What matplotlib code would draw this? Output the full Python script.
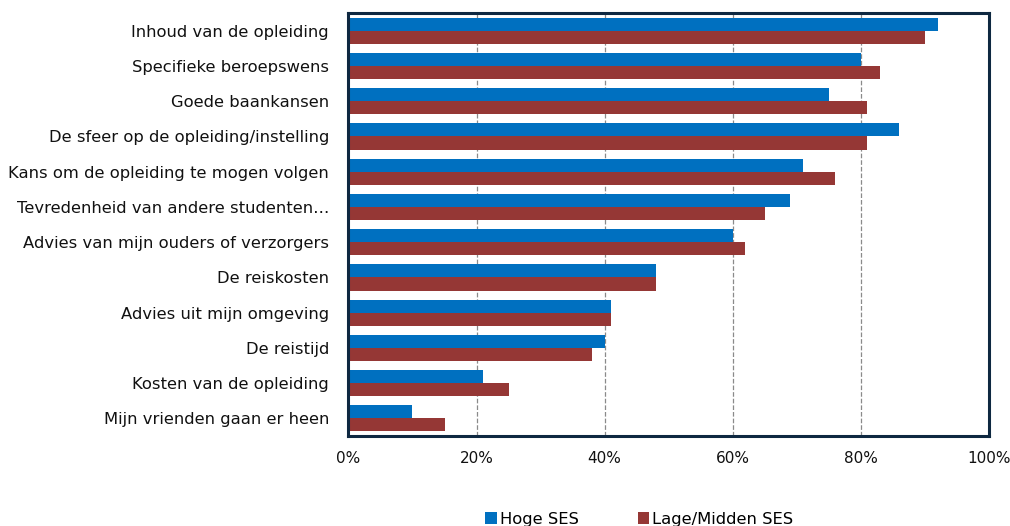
import numpy as np
import matplotlib.pyplot as plt
from matplotlib.ticker import PercentFormatter

categories = [
    "Inhoud van de opleiding",
    "Specifieke beroepswens",
    "Goede baankansen",
    "De sfeer op de opleiding/instelling",
    "Kans om de opleiding te mogen volgen",
    "Tevredenheid van andere studenten\u2026",
    "Advies van mijn ouders of verzorgers",
    "De reiskosten",
    "Advies uit mijn omgeving",
    "De reistijd",
    "Kosten van de opleiding",
    "Mijn vrienden gaan er heen",
]
hoge_ses = [92, 80, 75, 86, 71, 69, 60, 48, 41, 40, 21, 10]
lage_midden_ses = [90, 83, 81, 81, 76, 65, 62, 48, 41, 38, 25, 15]

blue = "#0070C0"
red = "#953735"

fig = plt.figure(figsize=(10.10, 5.26), dpi=100)
ax = fig.add_axes([0.345, 0.171, 0.634, 0.804])

y = np.arange(len(categories))
h = 0.37
ax.barh(y - h / 2, hoge_ses, height=h, color=blue, label="Hoge SES")
ax.barh(y + h / 2, lage_midden_ses, height=h, color=red, label="Lage/Midden SES")

ax.set_ylim(len(categories) - 0.5, -0.5)
ax.set_xlim(0, 100)
ax.set_xticks(range(0, 101, 20))
ax.xaxis.set_major_formatter(PercentFormatter(decimals=0))
ax.set_yticks(y)
ax.set_yticklabels(categories)
ax.tick_params(length=0, colors="#111111")
ax.tick_params(axis="y", pad=14, labelsize=11.8)
ax.tick_params(axis="x", pad=11, labelsize=11)

ax.grid(axis="x", linestyle="--", color="#8a8a8a", linewidth=0.9)
ax.set_axisbelow(True)
for s in ax.spines.values():
    s.set_color("#0e2841")
    s.set_linewidth(2.2)

fig.legend(loc="center", bbox_to_anchor=(0.633, 0.013), ncol=2, frameon=False,
           fontsize=11.8, handlelength=0.7, handleheight=0.7, handletextpad=0.2,
           columnspacing=3.6)

fig.savefig("out.png", dpi=100)
